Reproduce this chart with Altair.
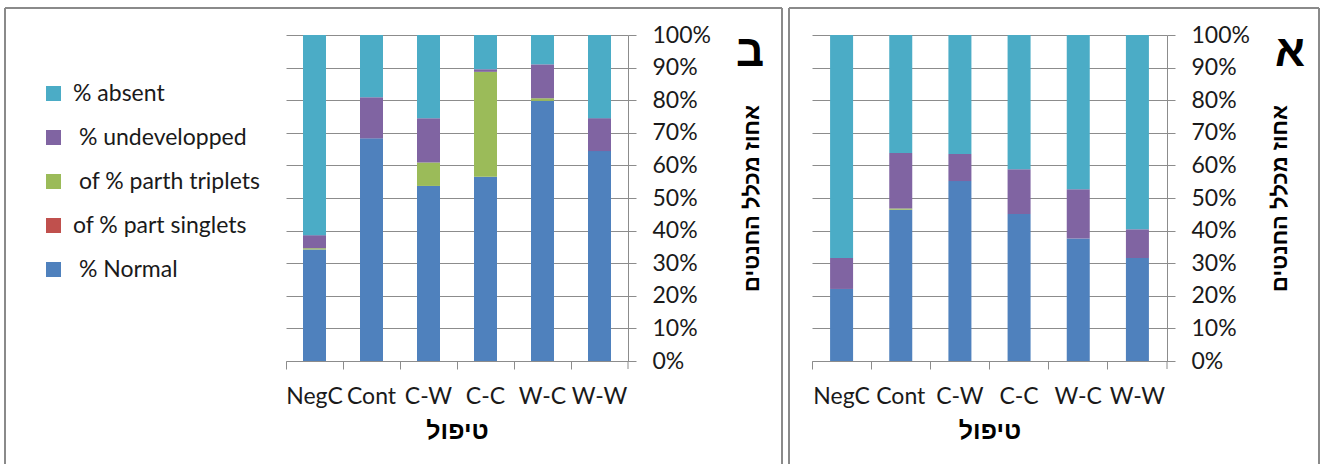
import altair as alt
import pandas as pd

# Treatments on the x axis
categories = ["NegC", "Cont", "C-W", "C-C", "W-C", "W-W"]

# Stack order bottom -> top (a zero-width char keeps the leading gap on some labels)
series_names = [
    "\u200b\u00a0% Normal",
    "of % part singlets",
    "\u200b\u00a0of % parth triplets",
    "\u200b\u00a0% undevelopped",
    "% absent",
]
series_colors = ["#4F81BD", "#C0504D", "#9BBB59", "#8064A2", "#4BACC6"]
pct_ticks = [0, 10, 20, 30, 40, 50, 60, 70, 80, 90, 100]

# Panel ב
bet_normal = [34.2, 68.3, 53.7, 56.5, 79.8, 64.4]
bet_singlets = [0, 0, 0, 0, 0, 0]
bet_triplets = [0.4, 0, 7.2, 32.2, 0.8, 0]
bet_undeveloped = [4.0, 12.6, 13.6, 0.8, 10.4, 10.1]
bet_absent = [61.4, 19.1, 25.5, 10.5, 9.0, 25.5]

# Panel א
alef_normal = [22.1, 46.4, 55.2, 45.1, 37.6, 31.6]
alef_singlets = [0, 0, 0, 0, 0, 0]
alef_triplets = [0, 0.4, 0, 0, 0, 0]
alef_undeveloped = [9.5, 17.0, 8.3, 13.7, 15.1, 8.8]
alef_absent = [68.4, 36.2, 36.5, 41.2, 47.3, 59.6]

GRID = "#8c8c8c"
FRAME = "#8a8a8a"
LATIN = "Lato"
HEBREW = "Liberation Sans"
PLOT_H = 326


def long_table(columns):
    rows = []
    for s_idx, (name, vals) in enumerate(zip(series_names, columns)):
        for cat, v in zip(categories, vals):
            rows.append({"treatment": cat, "series": name, "stack": s_idx, "value": v})
    return pd.DataFrame(rows)


one_row = pd.DataFrame({"k": [0]})


def frame(left, right, top, bottom):
    base = alt.Chart(one_row)
    style = dict(color=FRAME, strokeWidth=2)
    return alt.layer(
        base.mark_rule(**style).encode(x=alt.value(left), y=alt.value(top), y2=alt.value(bottom)),
        base.mark_rule(**style).encode(x=alt.value(right), y=alt.value(top), y2=alt.value(bottom)),
        base.mark_rule(**style).encode(x=alt.value(left), x2=alt.value(right), y=alt.value(top)),
    )


def panel(table, letter, width, letter_x, title_pad, frame_left, frame_right):
    bars = alt.Chart(table).mark_bar(size=23).encode(
        x=alt.X(
            "treatment:N",
            sort=categories,
            scale=alt.Scale(paddingInner=0, paddingOuter=0),
            axis=alt.Axis(
                title="טיפול",
                titleFont=HEBREW,
                titleFontSize=25,
                titleFontWeight="bold",
                titleColor="#000000",
                titlePadding=10,
                labelAngle=0,
                labelFont=LATIN,
                labelFontSize=23,
                labelColor="#1a1a1a",
                labelPadding=16,
                bandPosition=0,
                tickSize=8,
                tickColor=GRID,
                domainColor=GRID,
                grid=False,
            ),
        ),
        y=alt.Y(
            "value:Q",
            stack="zero",
            scale=alt.Scale(domain=[0, 100], nice=False),
            axis=alt.Axis(
                orient="right",
                values=pct_ticks,
                labelExpr="datum.value + '%'",
                labelFont=LATIN,
                labelFontSize=23,
                labelColor="#1a1a1a",
                labelPadding=16,
                tickSize=8,
                tickColor=GRID,
                domainColor=GRID,
                grid=True,
                gridColor=GRID,
                title="אחוז מכלל החנטים",
                titleFont=HEBREW,
                titleFontSize=22,
                titleFontWeight="bold",
                titleColor="#000000",
                titleAngle=270,
                titlePadding=title_pad,
            ),
        ),
        color=alt.Color(
            "series:N",
            scale=alt.Scale(domain=series_names[::-1], range=series_colors[::-1]),
            legend=alt.Legend(
                title=None,
                orient="none",
                legendX=-244,
                legendY=47,
                symbolType="square",
                symbolSize=225,
                symbolStrokeWidth=0,
                labelFont=LATIN,
                labelFontSize=23,
                labelColor="#1a1a1a",
                labelOffset=8,
                rowPadding=20,
                labelLimit=400,
            ),
        ),
        order=alt.Order("stack:Q", sort="ascending"),
    )
    # closing tick at the right end of the category axis
    end_tick = alt.Chart(one_row).mark_rule(color=GRID).encode(
        x=alt.value(width), y=alt.value(PLOT_H), y2=alt.value(PLOT_H + 8)
    )
    mark_letter = alt.Chart(one_row).mark_text(
        font=HEBREW, fontWeight="bold", fontSize=44, color="#000000"
    ).encode(x=alt.value(letter_x), y=alt.value(18), text=alt.value(letter))
    return alt.layer(
        frame(frame_left, frame_right, -27, 429), bars, end_tick, mark_letter
    ).properties(width=width, height=PLOT_H)


left = panel(
    long_table([bet_normal, bet_singlets, bet_triplets, bet_undeveloped, bet_absent]),
    "ב", 342, 464, 53, -281, 496,
)
right = panel(
    long_table([alef_normal, alef_singlets, alef_triplets, alef_undeveloped, alef_absent]),
    "א", 355, 478, 42, -23, 507,
)

chart = (
    alt.hconcat(left, right, spacing=184, bounds="flush")
    .properties(
        padding={"left": 4, "top": 7, "right": 0, "bottom": 0},
        autosize=alt.AutoSizeParams(type="pad"),
        background="#ffffff",
    )
    .configure_view(strokeWidth=0)
)

chart.save("out.html", embed_options={"renderer": "svg", "actions": False})
